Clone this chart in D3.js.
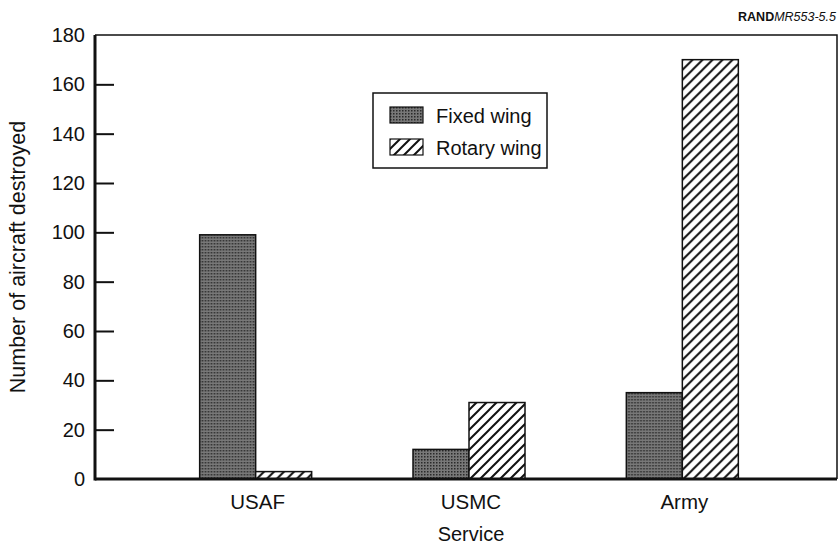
<!DOCTYPE html>
<html>
<head>
<meta charset="utf-8">
<script src="https://cdn.jsdelivr.net/npm/d3@7"></script>
<style>
  body { margin: 0; background: #fff; }
  text { font-family: "Liberation Sans", Arial, Helvetica, sans-serif; fill: #111; }
</style>
</head>
<body>
<div id="app"></div>
<script>
const categories = ["USAF", "USMC", "Army"];
const seriesNames = ["Fixed wing", "Rotary wing"];
const fixedWing = [99, 12, 35];
const rotaryWing = [3, 31, 170];
const yTicks = [0, 20, 40, 60, 80, 100, 120, 140, 160, 180];

let width = 840, height = 547;
let plotLeft = 95, plotRight = 837, plotTop = 35, plotBottom = 479;

let svg = d3.select("#app").append("svg")
  .attr("width", width)
  .attr("height", height);

// patterns
let defs = svg.append("defs");
let stipple = defs.append("pattern")
  .attr("id", "stipple")
  .attr("patternUnits", "userSpaceOnUse")
  .attr("width", 3).attr("height", 3);
stipple.append("rect").attr("width", 3).attr("height", 3).attr("fill", "#787878");
stipple.append("rect").attr("x", 0).attr("y", 0).attr("width", 1.5).attr("height", 1.5).attr("fill", "#2a2a2a");

let hatch = defs.append("pattern")
  .attr("id", "hatch")
  .attr("patternUnits", "userSpaceOnUse")
  .attr("width", 10).attr("height", 10);
hatch.append("rect").attr("width", 10).attr("height", 10).attr("fill", "#fff");
hatch.append("path")
  .attr("d", "M0,10 L10,0 M-3,3 L3,-3 M7,13 L13,7")
  .attr("stroke", "#111")
  .attr("stroke-width", 2);

const fills = { "Fixed wing": "url(#stipple)", "Rotary wing": "url(#hatch)" };

let y = d3.scaleLinear().domain([0, 180]).range([plotBottom, plotTop]);
let x = d3.scaleBand().domain(categories).range([149, 789]);
let x1 = d3.scaleBand().domain(seriesNames).range([-56, 56]);

let rows = categories.map((c, i) => ({
  cat: c,
  values: [
    { key: "Fixed wing", value: fixedWing[i] },
    { key: "Rotary wing", value: rotaryWing[i] }
  ]
}));

// frame top / right
svg.append("path")
  .attr("d", `M${plotLeft},${plotTop}H${plotRight}V${plotBottom}`)
  .attr("fill", "none")
  .attr("stroke", "#111")
  .attr("stroke-width", 1.5);

// bars
svg.append("g")
  .selectAll("g")
  .data(rows)
  .join("g")
  .attr("transform", d => `translate(${x(d.cat) + x.bandwidth() / 2},0)`)
  .selectAll("rect")
  .data(d => d.values)
  .join("rect")
  .attr("x", d => x1(d.key))
  .attr("width", x1.bandwidth())
  .attr("y", d => y(d.value))
  .attr("height", d => y(0) - y(d.value))
  .attr("fill", d => fills[d.key])
  .attr("stroke", "#111")
  .attr("stroke-width", 1.5);

// y axis
let yAxis = svg.append("g")
  .attr("transform", `translate(${plotLeft},0)`)
  .call(d3.axisLeft(y).tickValues(yTicks).tickSize(-19).tickPadding(10));
yAxis.select(".domain").remove();
yAxis.selectAll(".tick line")
  .attr("stroke", "#111")
  .attr("stroke-width", 2)
  .attr("display", d => (d === 0 || d === 180) ? "none" : null);
yAxis.selectAll(".tick text")
  .attr("font-size", 20)
  .attr("font-family", "Liberation Sans, Arial, sans-serif")
  .attr("fill", "#111");

svg.append("line")
  .attr("x1", plotLeft).attr("x2", plotLeft)
  .attr("y1", plotTop).attr("y2", plotBottom + 1.5)
  .attr("stroke", "#111").attr("stroke-width", 3);
svg.append("line")
  .attr("x1", plotLeft).attr("x2", plotRight)
  .attr("y1", plotBottom).attr("y2", plotBottom)
  .attr("stroke", "#111").attr("stroke-width", 3);

// x labels
svg.append("g")
  .selectAll("text")
  .data(categories)
  .join("text")
  .attr("x", d => x(d) + x.bandwidth() / 2 + 2)
  .attr("y", 509)
  .attr("text-anchor", "middle")
  .attr("font-size", 20.5)
  .text(d => d);

svg.append("text")
  .attr("x", 471)
  .attr("y", 541)
  .attr("text-anchor", "middle")
  .attr("font-size", 20)
  .text("Service");

svg.append("text")
  .attr("transform", "translate(25,257) rotate(-90)")
  .attr("text-anchor", "middle")
  .attr("font-size", 21.5)
  .text("Number of aircraft destroyed");

// legend
let legend = svg.append("g");
legend.append("rect")
  .attr("x", 373).attr("y", 93)
  .attr("width", 174).attr("height", 75)
  .attr("fill", "#fff")
  .attr("stroke", "#111")
  .attr("stroke-width", 1.5);
let items = legend.selectAll("g.item")
  .data(seriesNames)
  .join("g")
  .attr("class", "item")
  .attr("transform", (d, i) => `translate(390,${107 + i * 32})`);
items.append("rect")
  .attr("width", 33).attr("height", 16)
  .attr("fill", d => fills[d])
  .attr("stroke", "#111")
  .attr("stroke-width", 1.2);
items.append("text")
  .attr("x", 46)
  .attr("y", 16)
  .attr("font-size", 20)
  .text(d => d);

// source tag
let tag = svg.append("text")
  .attr("x", 836)
  .attr("y", 21)
  .attr("text-anchor", "end")
  .attr("font-size", 12.5);
tag.append("tspan").attr("font-weight", "bold").text("RAND");
tag.append("tspan").attr("font-style", "italic").text("MR553-5.5");
</script>
</body>
</html>
